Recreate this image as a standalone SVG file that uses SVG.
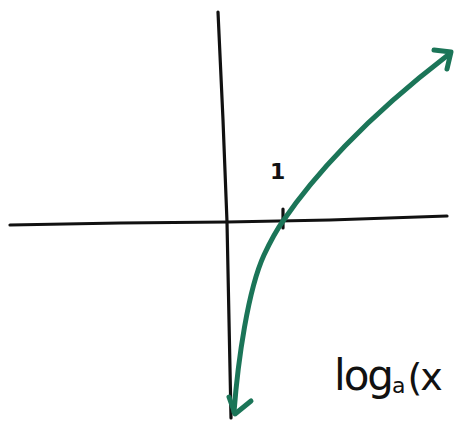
<svg xmlns="http://www.w3.org/2000/svg" width="455" height="427" viewBox="0 0 455 427">
  <style>
    .axis { fill: none; stroke: #111; stroke-width: 3.2; stroke-linecap: round; stroke-linejoin: round; }
    .curve { fill: none; stroke: #1b7558; stroke-width: 5; stroke-linecap: round; stroke-linejoin: round; }
    .hand { font-family: "DejaVu Sans", "Liberation Sans", sans-serif; fill: #111; }
  </style>
  <rect width="455" height="427" fill="#fff"/>
  <g id="axes">
    <path class="axis" d="M10,225 L120,223 L227,222 L330,220 L447,216"/>
    <path class="axis" d="M218,12 L223,120 L227,222 L229,320 L231,418"/>
    <path class="axis" d="M283,209 L283,228"/>
  </g>
  <g id="connectors">
    <path class="curve" d="M234,412 C238,360 248,290 264,255 C272,238 278,228 283,221 C300,196 320,172 345,146 C370,120 405,88 448,55"/>
    <path class="curve" d="M229,397 L235,414 L251,401"/>
    <path class="curve" d="M434,50 L451,52 L447,69"/>
  </g>
  <g id="label-one">
    <text class="hand" x="270" y="179" font-size="22" font-weight="bold">1</text>
  </g>
  <g id="label-log">
    <text class="hand" x="334" y="390" font-size="42" letter-spacing="-2">log<tspan font-size="22" dy="3">a</tspan><tspan font-size="38" dy="-3" dx="4">(x</tspan></text>
  </g>
</svg>
